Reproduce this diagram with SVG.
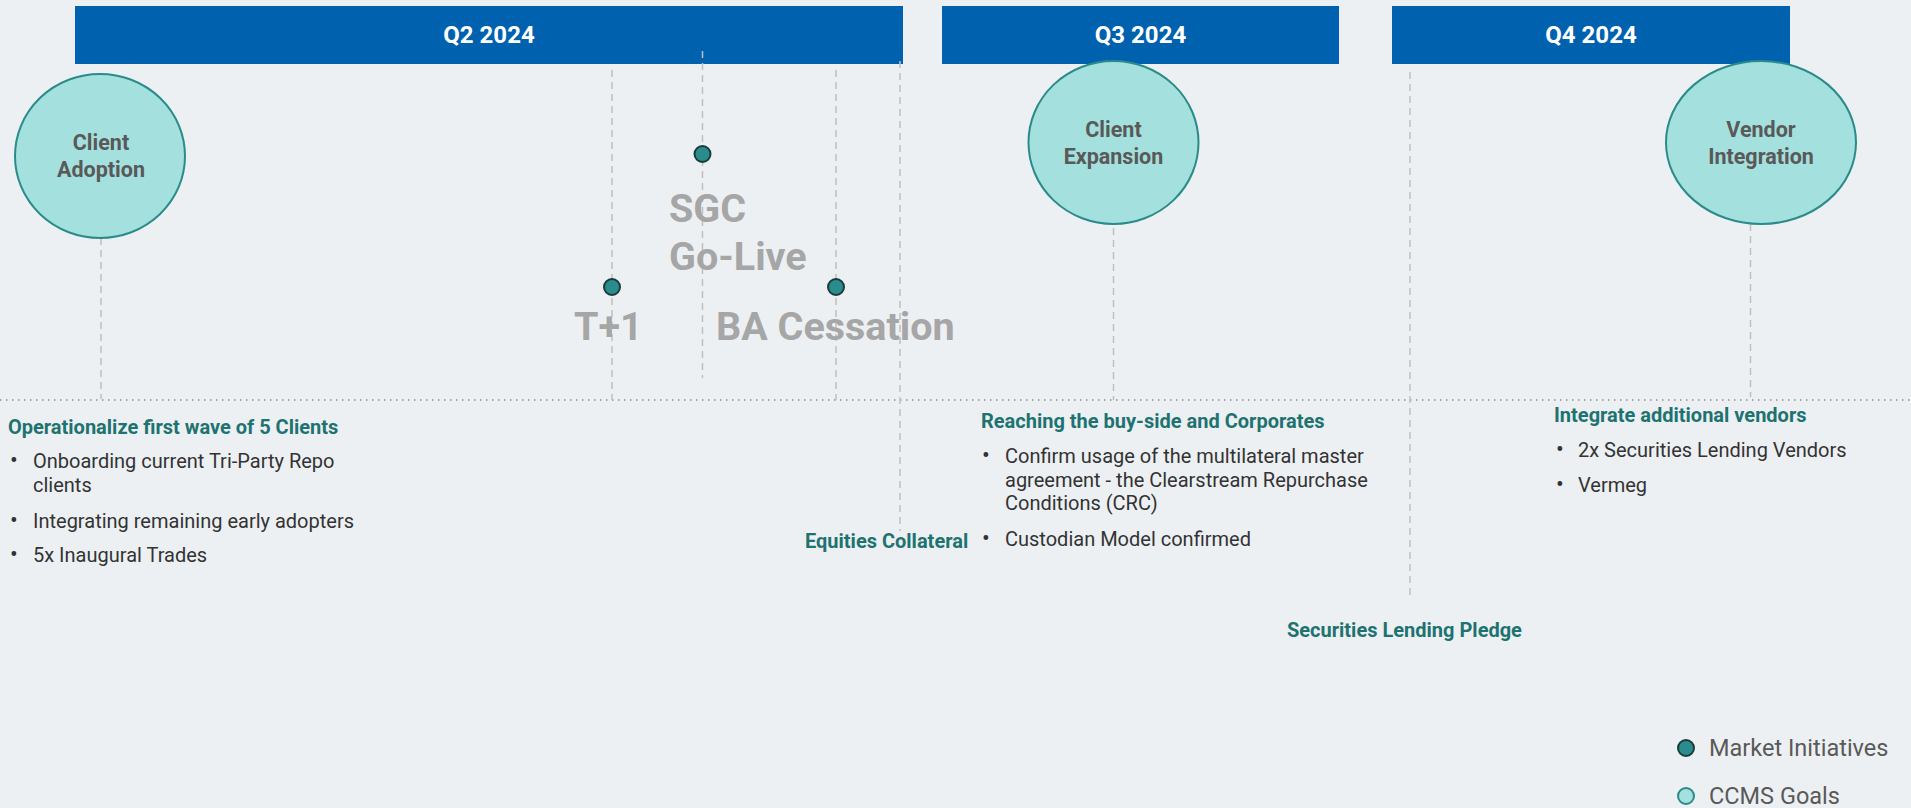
<svg xmlns="http://www.w3.org/2000/svg" width="1911" height="808" viewBox="0 0 1911 808">
<defs>
<style>
.bg{fill:#EDF0F3}
.bar{fill:#0061AF}
.barT{font-family:Roboto,"Liberation Sans",sans-serif;font-weight:bold;font-size:24px;fill:#FFFFFF;text-anchor:middle}
.goal{fill:#A3E0DE;stroke:#2A8B8B;stroke-width:2}
.goalT{font-family:Roboto,"Liberation Sans",sans-serif;font-weight:bold;font-size:21.5px;fill:#595959;text-anchor:middle}
.mi{fill:#2A8C8C;stroke:#1B3B3B;stroke-width:2}
.big{font-family:Roboto,"Liberation Sans",sans-serif;font-weight:bold;font-size:39.5px;fill:#A6A6A6}
.head{font-family:Roboto,"Liberation Sans",sans-serif;font-weight:bold;font-size:20px;fill:#1E7371}
.body{font-family:Roboto,"Liberation Sans",sans-serif;font-size:20px;fill:#333333}
.bul{font-family:Roboto,"Liberation Sans",sans-serif;font-size:23px;fill:#333333}
.leg{font-family:Roboto,"Liberation Sans",sans-serif;font-size:23.5px;fill:#595959}
.dash{stroke:#BFBFBF;stroke-width:1.5;stroke-dasharray:7,5;fill:none}
.dot{stroke:#8C8C8C;stroke-width:1.5;stroke-dasharray:1.5,4.5;fill:none}
</style>
</defs>
<rect class="bg" x="0" y="0" width="1911" height="808"/>

<g id="quarters">
<g id="q2"><rect class="bar" x="75" y="6" width="828" height="58"/><text class="barT" x="489" y="43">Q2 2024</text></g>
<g id="q3"><rect class="bar" x="942" y="6" width="397" height="58"/><text class="barT" x="1140.5" y="43">Q3 2024</text></g>
<g id="q4"><rect class="bar" x="1392" y="6" width="398" height="58"/><text class="barT" x="1591" y="43">Q4 2024</text></g>
</g>

<g id="connectors">
<line class="dot" x1="0" y1="400" x2="1911" y2="400"/>
<line class="dash" x1="101" y1="238" x2="101" y2="399"/>
<line class="dash" x1="612" y1="70" x2="612" y2="400"/>
<line class="dash" x1="702.5" y1="51" x2="702.5" y2="378"/>
<line class="dash" x1="836" y1="70" x2="836" y2="400"/>
<line class="dash" x1="900" y1="61" x2="900" y2="531"/>
<line class="dash" x1="1113.5" y1="228" x2="1113.5" y2="400"/>
<line class="dash" x1="1410" y1="72" x2="1410" y2="598"/>
<line class="dash" x1="1750.5" y1="224" x2="1750.5" y2="397"/>
</g>

<g id="client-adoption"><ellipse class="goal" cx="100" cy="156" rx="85" ry="82"/><text class="goalT" x="101" y="150">Client</text><text class="goalT" x="101" y="177">Adoption</text></g>
<g id="client-expansion"><ellipse class="goal" cx="1113.5" cy="142.5" rx="85" ry="81.5"/><text class="goalT" x="1113.5" y="137">Client</text><text class="goalT" x="1113.5" y="164">Expansion</text></g>
<g id="vendor-integration"><ellipse class="goal" cx="1761" cy="142.5" rx="95" ry="81.5"/><text class="goalT" x="1761" y="137">Vendor</text><text class="goalT" x="1761" y="164">Integration</text></g>

<g id="sgc"><circle class="mi" cx="702.5" cy="154" r="8"/><text class="big" x="669" y="222">SGC</text><text class="big" x="669" y="270">Go-Live</text></g>
<g id="t1"><circle class="mi" cx="612" cy="287" r="8"/><text class="big" x="574" y="340">T+1</text></g>
<g id="ba"><circle class="mi" cx="836" cy="287" r="8"/><text class="big" x="716" y="340">BA Cessation</text></g>

<g id="equities"><text class="head" x="805" y="548">Equities Collateral</text></g>
<g id="sec-lending"><text class="head" x="1287" y="637">Securities Lending Pledge</text></g>

<g id="text-adoption">
<text class="head" x="8" y="434">Operationalize first wave of 5 Clients</text>
<text class="bul" x="10" y="468">•</text><text class="body" x="33" y="468">Onboarding current Tri-Party Repo</text>
<text class="body" x="33" y="492">clients</text>
<text class="bul" x="10" y="528">•</text><text class="body" x="33" y="528">Integrating remaining early adopters</text>
<text class="bul" x="10" y="562">•</text><text class="body" x="33" y="562">5x Inaugural Trades</text>
</g>
<g id="text-expansion">
<text class="head" x="981" y="428">Reaching the buy-side and Corporates</text>
<text class="bul" x="982" y="463">•</text><text class="body" x="1005" y="463">Confirm usage of the multilateral master</text>
<text class="body" x="1005" y="487">agreement - the Clearstream Repurchase</text>
<text class="body" x="1005" y="510">Conditions (CRC)</text>
<text class="bul" x="982" y="546">•</text><text class="body" x="1005" y="546">Custodian Model confirmed</text>
</g>
<g id="text-vendor">
<text class="head" x="1554" y="422">Integrate additional vendors</text>
<text class="bul" x="1556" y="457">•</text><text class="body" x="1578" y="457">2x Securities Lending Vendors</text>
<text class="bul" x="1556" y="492">•</text><text class="body" x="1578" y="492">Vermeg</text>
</g>

<g id="legend">
<circle class="mi" cx="1686" cy="748" r="8"/><text class="leg" x="1709" y="756">Market Initiatives</text>
<circle class="goal" cx="1686" cy="796" r="8"/><text class="leg" x="1709" y="804">CCMS Goals</text>
</g>
</svg>
